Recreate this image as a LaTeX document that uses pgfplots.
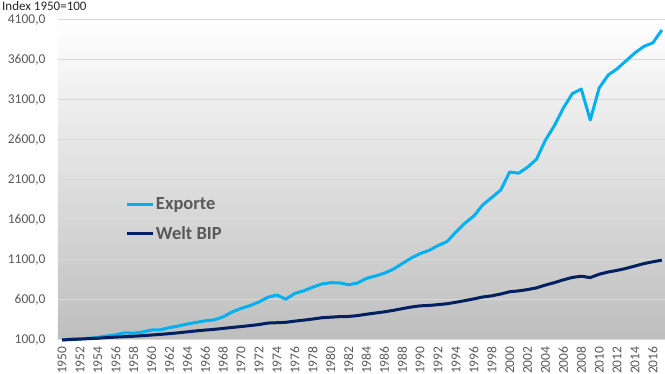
\documentclass[border=0pt]{standalone}
\usepackage{fontspec}
\setmainfont{Carlito}
\usepackage{pgfplots}
\pgfplotsset{compat=1.18}
\definecolor{exp}{RGB}{0,176,240}
\definecolor{bip}{RGB}{0,32,96}
\definecolor{lbl}{RGB}{89,89,89}
\definecolor{grd}{RGB}{217,217,217}
\pgfplotstableread{
year exp bip
1950 100 100
1951 112 106
1952 115 111
1953 122 117
1954 132 122
1955 150 130
1956 165 136
1957 190 142
1958 185 147
1959 200 154
1960 225 162
1961 228 170
1962 255 180
1963 275 190
1964 300 202
1965 320 214
1966 340 224
1967 352 233
1968 390 245
1969 450 257
1970 495 268
1971 530 280
1972 575 293
1973 635 312
1974 662 316
1975 610 321
1976 682 336
1977 715 348
1978 760 362
1979 800 378
1980 816 385
1981 815 392
1982 790 394
1983 812 405
1984 870 422
1985 900 437
1986 935 452
1987 985 470
1988 1055 492
1989 1125 512
1990 1180 527
1991 1220 532
1992 1280 542
1993 1330 553
1994 1450 572
1995 1560 592
1996 1650 614
1997 1790 638
1998 1880 652
1999 1975 675
2000 2200 703
2001 2185 714
2002 2260 730
2003 2360 752
2004 2600 787
2005 2780 817
2006 3000 852
2007 3180 882
2008 3237 897
2009 2850 880
2010 3250 922
2011 3412 950
2012 3490 970
2013 3590 995
2014 3690 1025
2015 3770 1055
2016 3815 1078
2017 3975 1098
}\datatable
\begin{document}
\begin{tikzpicture}
\begin{axis}[
  name=ax,
  scale only axis,
  width=607pt, height=320pt,
  xmin=1949.55, xmax=2017.35,
  ymin=100, ymax=4100,
  ytick={100,600,...,4100},
  xtick={1950,1952,...,2016},
  axis line style={draw=none},
  major tick length=0pt,
  ymajorgrids,
  grid style={grd, line width=1pt},
  axis background/.style={shade, top color=white, bottom color={rgb,255:red,190;green,190;blue,190}},
  clip=false,
  /pgf/number format/assume math mode=true,
  tick label style={font=\fontsize{13.5}{15}\selectfont, text=lbl},
  yticklabel style={xshift=-9pt, /pgf/number format/.cd, fixed, fixed zerofill, precision=1, use comma, 1000 sep={}},
  xticklabel style={rotate=90, anchor=east, /pgf/number format/.cd, 1000 sep={}},
  xticklabel shift=3pt,
  xtick pos=bottom, ytick pos=left,
  legend cell align=left,
  legend style={at={(axis description cs:0.112,0.378)}, anchor=west, draw=none, fill=none,
    inner sep=0pt, outer sep=0pt,
    font=\fontsize{18.5}{20}\selectfont\bfseries, text=lbl, row sep=13pt,
    nodes={inner xsep=1pt, inner ysep=1pt}},
  legend image code/.code={\draw[#1, line width=3pt] (0pt,0pt) -- (26pt,0pt);},
]
\addplot[exp, line width=3pt, line join=round] table[x=year, y=exp] {\datatable};
\addlegendentry{Exporte}
\addplot[bip, line width=3pt, line join=round] table[x=year, y=bip] {\datatable};
\addlegendentry{Welt BIP}
\end{axis}
\node[anchor=north west, font=\fontsize{13}{15}\selectfont, text=black!85, inner sep=0pt] at ([shift={(-56pt,19pt)}]ax.north west) {Index 1950=100};
\pgfresetboundingbox
\path[use as bounding box] ([shift={(-58pt,-34pt)}]ax.south west) rectangle ([shift={(0pt,20pt)}]ax.north east);
\end{tikzpicture}
\end{document}
